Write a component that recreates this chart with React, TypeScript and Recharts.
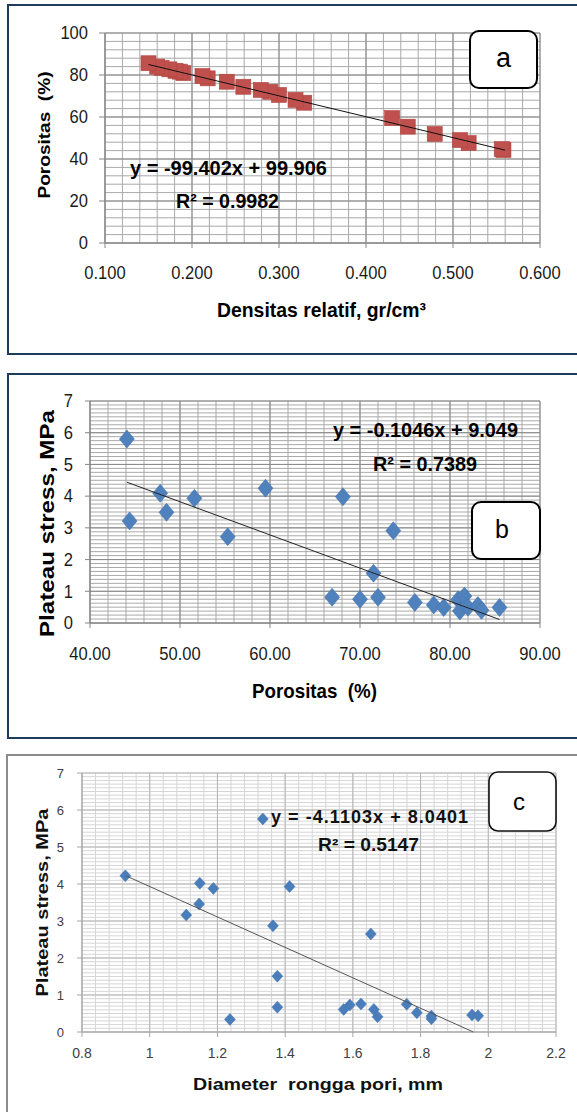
import React from 'react';
import { ScatterChart, Scatter, XAxis, YAxis, CartesianGrid } from 'recharts';

// ---------- Panel a: Densitas relatif vs Porositas ----------
const densitasA = [0.558, 0.556, 0.518, 0.508, 0.479, 0.448, 0.430, 0.329, 0.319, 0.300, 0.290, 0.279, 0.259, 0.240, 0.218, 0.212, 0.190, 0.186, 0.181, 0.174, 0.165, 0.160, 0.150];
const porositasA = [44.3, 44.7, 47.6, 49.0, 51.9, 55.4, 59.5, 66.8, 68.1, 70.5, 72.0, 72.9, 74.4, 76.8, 78.4, 79.5, 80.9, 81.6, 82.0, 82.7, 83.4, 84.0, 85.6];
const trendAx = [0.15, 0.56];
const trendAy = [85.0, 44.2];
const xTicksA = [0.1, 0.2, 0.3, 0.4, 0.5, 0.6];
const yTicksA = [0, 20, 40, 60, 80, 100];

// ---------- Panel b: Porositas vs Plateau stress ----------
const porositasB = [44.1, 44.4, 47.8, 48.5, 51.6, 55.3, 59.5, 66.9, 68.1, 70.0, 71.5, 72.0, 73.7, 76.1, 78.2, 79.3, 80.9, 81.1, 81.6, 82.0, 83.1, 83.5, 85.5];
const stressB = [5.80, 3.22, 4.09, 3.49, 3.93, 2.72, 4.25, 0.81, 3.98, 0.75, 1.57, 0.81, 2.91, 0.65, 0.57, 0.49, 0.73, 0.38, 0.85, 0.50, 0.55, 0.40, 0.49];
const trendBx = [44.1, 85.5];
const trendBy = [4.44, 0.11];
const xTicksB = [40, 50, 60, 70, 80, 90];
const yTicksB = [0, 1, 2, 3, 4, 5, 6, 7];

// ---------- Panel c: Diameter rongga pori vs Plateau stress ----------
const diameterC = [0.928, 1.108, 1.148, 1.146, 1.188, 1.237, 1.334, 1.364, 1.377, 1.377, 1.413, 1.573, 1.591, 1.624, 1.653, 1.662, 1.673, 1.759, 1.789, 1.832, 1.832, 1.952, 1.970];
const stressC = [4.22, 3.16, 4.02, 3.46, 3.88, 0.34, 5.76, 2.87, 1.51, 0.67, 3.93, 0.61, 0.73, 0.76, 2.65, 0.61, 0.41, 0.75, 0.52, 0.43, 0.36, 0.46, 0.44];
const trendCx = [0.93, 1.956];
const trendCy = [4.22, 0.0];
const xTicksC = [0.8, 1, 1.2, 1.4, 1.6, 1.8, 2, 2.2];
const yTicksC = [0, 1, 2, 3, 4, 5, 6, 7];

const zip = (xs: number[], ys: number[]) => xs.map((x, i) => ({ x, y: ys[i] }));
const dataA = zip(densitasA, porositasA);
const trendA = zip(trendAx, trendAy);
const dataB = zip(porositasB, stressB);
const trendB = zip(trendBx, trendBy);
const dataC = zip(diameterC, stressC);
const trendC = zip(trendCx, trendCy);

const steps = (min: number, max: number, step: number) => {
  const out: number[] = [];
  const n = Math.round((max - min) / step);
  for (let i = 0; i <= n; i++) out.push(min + i * step);
  return out;
};

const vGen = (vals: number[], min: number, max: number) => (p: any) => {
  const o = p.offset;
  return vals.map((v) => o.left + ((v - min) / (max - min)) * o.width);
};
const hGen = (vals: number[], min: number, max: number) => (p: any) => {
  const o = p.offset;
  return vals.map((v) => o.top + o.height - ((v - min) / (max - min)) * o.height);
};

const FONT = "'Liberation Sans', Arial, Helvetica, sans-serif";

const makeTick = (opts: { anchor: string; dy: any; fontSize: number; sx: number; fill: string; fmt: (v: number) => string }) =>
  (props: any) => {
    const { x, y, payload } = props;
    return (
      <text
        transform={`translate(${x},${y}) scale(${opts.sx},1)`}
        x={0}
        y={0}
        dy={opts.dy}
        textAnchor={opts.anchor as any}
        fontSize={opts.fontSize}
        fontFamily={FONT}
        fill={opts.fill}
      >
        {opts.fmt(payload.value)}
      </text>
    );
  };

const tickAX = makeTick({ anchor: 'middle', dy: 31.5, fontSize: 18, sx: 0.92, fill: '#1a1a1a', fmt: (v) => v.toFixed(3) });
const tickAY = makeTick({ anchor: 'end', dy: '0.35em', fontSize: 18, sx: 0.92, fill: '#1a1a1a', fmt: (v) => String(v) });
const tickBX = makeTick({ anchor: 'middle', dy: 32, fontSize: 18, sx: 0.92, fill: '#1a1a1a', fmt: (v) => v.toFixed(2) });
const tickBY = makeTick({ anchor: 'end', dy: '0.35em', fontSize: 18, sx: 0.92, fill: '#1a1a1a', fmt: (v) => String(v) });
const tickCX = makeTick({ anchor: 'middle', dy: 21, fontSize: 14, sx: 1, fill: '#404040', fmt: (v) => String(v) });
const tickCY = makeTick({ anchor: 'end', dy: '0.35em', fontSize: 13, sx: 1, fill: '#404040', fmt: (v) => String(v) });

const Square = (p: any) => (
  <rect x={p.cx - 7.5} y={p.cy - 7.5} width={15} height={15} fill="#C0504D" stroke="#B3453F" strokeWidth={0.6} />
);
const DiamondB = (p: any) => (
  <path
    d={`M${p.cx},${p.cy - 9} L${p.cx + 7.5},${p.cy} L${p.cx},${p.cy + 9} L${p.cx - 7.5},${p.cy} Z`}
    fill="#4F81BD"
    stroke="#4474AE"
    strokeWidth={0.6}
  />
);
const DiamondC = (p: any) => (
  <path
    d={`M${p.cx},${p.cy - 6} L${p.cx + 5.5},${p.cy} L${p.cx},${p.cy + 6} L${p.cx - 5.5},${p.cy} Z`}
    fill="#4A7EBB"
    stroke="#4474AE"
    strokeWidth={0.5}
  />
);
const Empty = () => <g />;

const axisA = { stroke: '#868686', strokeWidth: 1 };
const axisC = { stroke: '#a6a6a6', strokeWidth: 1 };

const boldText = (
  txt: string,
  x: number,
  y: number,
  fs: number,
  len: number,
  opts: { anchor?: string; rotate?: boolean; adjust?: string; weight?: string; fill?: string } = {}
) => (
  <text
    x={x}
    y={y}
    dy={opts.rotate ? '0.35em' : 0}
    transform={opts.rotate ? `rotate(-90, ${x}, ${y})` : undefined}
    textAnchor={(opts.anchor || 'middle') as any}
    fontSize={fs}
    fontWeight={opts.weight || 'bold'}
    fontFamily={FONT}
    fill={opts.fill || '#000'}
    textLength={len}
    lengthAdjust={(opts.adjust || 'spacingAndGlyphs') as any}
    style={{ whiteSpace: 'pre' }}
  >
    {txt}
  </text>
);

export default function App() {
  return (
    <div style={{ position: 'absolute', left: 0, top: 0, width: 577, height: 1112, background: '#fff', overflow: 'hidden' }}>
      {/* Panel a */}
      <div style={{ position: 'absolute', left: 0, top: 0 }}>
        <ScatterChart width={577} height={360} margin={{ top: 33, right: 37, bottom: 87, left: 45 }}>
          <CartesianGrid
            stroke="#a9a9a9"
            strokeWidth={1}
            verticalCoordinatesGenerator={vGen(steps(0.1, 0.6, 0.02), 0.1, 0.6)}
            horizontalCoordinatesGenerator={hGen(steps(0, 100, 4), 0, 100)}
          />
          <CartesianGrid
            stroke="#8a8a8a"
            strokeWidth={1}
            verticalCoordinatesGenerator={vGen(xTicksA, 0.1, 0.6)}
            horizontalCoordinatesGenerator={hGen(yTicksA, 0, 100)}
          />
          <XAxis type="number" dataKey="x" domain={[0.1, 0.6]} ticks={xTicksA} interval={0} height={30} tickSize={5} tickMargin={0} axisLine={axisA} tickLine={axisA} tick={tickAX} />
          <YAxis type="number" dataKey="y" domain={[0, 100]} ticks={yTicksA} interval={0} width={60} tickSize={6} tickMargin={11} axisLine={axisA} tickLine={axisA} tick={tickAY} />
          <Scatter data={dataA} shape={Square} isAnimationActive={false} />
          <Scatter data={trendA} shape={Empty} line={{ stroke: '#111', strokeWidth: 1 }} isAnimationActive={false} />
        </ScatterChart>
      </div>

      {/* Panel b */}
      <div style={{ position: 'absolute', left: 0, top: 360 }}>
        <ScatterChart width={577} height={380} margin={{ top: 41, right: 37, bottom: 87, left: 30 }}>
          <CartesianGrid
            stroke="#a9a9a9"
            strokeWidth={1}
            verticalCoordinatesGenerator={vGen(steps(40, 90, 2), 40, 90)}
            horizontalCoordinatesGenerator={hGen(steps(0, 7, 0.125), 0, 7)}
          />
          <CartesianGrid
            stroke="#8a8a8a"
            strokeWidth={1}
            verticalCoordinatesGenerator={vGen(xTicksB, 40, 90)}
            horizontalCoordinatesGenerator={hGen(yTicksB, 0, 7)}
          />
          <XAxis type="number" dataKey="x" domain={[40, 90]} ticks={xTicksB} interval={0} height={30} tickSize={5} tickMargin={0} axisLine={axisA} tickLine={axisA} tick={tickBX} />
          <YAxis type="number" dataKey="y" domain={[0, 7]} ticks={yTicksB} interval={0} width={60} tickSize={5} tickMargin={12} axisLine={axisA} tickLine={axisA} tick={tickBY} />
          <Scatter data={dataB} shape={DiamondB} isAnimationActive={false} />
          <Scatter data={trendB} shape={Empty} line={{ stroke: '#222', strokeWidth: 1 }} isAnimationActive={false} />
        </ScatterChart>
      </div>

      {/* Panel c */}
      <div style={{ position: 'absolute', left: 0, top: 740 }}>
        <ScatterChart width={577} height={372} margin={{ top: 33, right: 21, bottom: 50, left: 22 }}>
          <CartesianGrid
            stroke="#d6d6d6"
            strokeWidth={1}
            verticalCoordinatesGenerator={vGen(steps(0.8, 2.2, 0.04), 0.8, 2.2)}
            horizontalCoordinatesGenerator={hGen(steps(0, 7, 0.1), 0, 7)}
          />
          <CartesianGrid
            stroke="#b5b5b5"
            strokeWidth={1}
            verticalCoordinatesGenerator={vGen(xTicksC, 0.8, 2.2)}
            horizontalCoordinatesGenerator={hGen(yTicksC, 0, 7)}
          />
          <XAxis type="number" dataKey="x" domain={[0.8, 2.2]} ticks={xTicksC} interval={0} height={30} tickSize={5} tickMargin={0} axisLine={axisC} tickLine={axisC} tick={tickCX} />
          <YAxis type="number" dataKey="y" domain={[0, 7]} ticks={yTicksC} interval={0} width={60} tickSize={5} tickMargin={13} axisLine={axisC} tickLine={axisC} tick={tickCY} />
          <Scatter data={dataC} shape={DiamondC} isAnimationActive={false} />
          <Scatter data={trendC} shape={Empty} line={{ stroke: '#555', strokeWidth: 1 }} isAnimationActive={false} />
        </ScatterChart>
      </div>

      {/* Overlay: frames, labels, equations, titles */}
      <svg width={577} height={1112} style={{ position: 'absolute', left: 0, top: 0, pointerEvents: 'none' }}>
        <rect x={8} y={5} width={620} height={349} fill="none" stroke="#1F3B5C" strokeWidth={2} />
        <rect x={8} y={374} width={620} height={364} fill="none" stroke="#1F3B5C" strokeWidth={2} />
        <rect x={7} y={755} width={620} height={420} fill="none" stroke="#8c8c8c" strokeWidth={2} />

        <rect x={470} y={31} width={67} height={57} rx={9} fill="#fff" stroke="#000" strokeWidth={2} />
        <text x={503.5} y={67} textAnchor="middle" fontSize={27} fontFamily={FONT} fill="#000">a</text>
        <rect x={472} y={502} width={68} height={57} rx={9} fill="#fff" stroke="#000" strokeWidth={2} />
        <text x={502} y={538} textAnchor="middle" fontSize={25} fontFamily={FONT} fill="#000">b</text>
        <rect x={489} y={772} width={67} height={59} rx={9} fill="#fff" stroke="#111" strokeWidth={1.6} />
        <text x={519} y={810} textAnchor="middle" fontSize={24} fontFamily={FONT} fill="#000">c</text>

        {boldText('y = -99.402x + 99.906', 228.5, 175, 21, 197)}
        {boldText('R² = 0.9982', 227.5, 207.5, 21, 103)}
        {boldText('y = -0.1046x + 9.049', 425.5, 437, 21, 185)}
        {boldText('R² = 0.7389', 425, 470.5, 21, 104)}
        {boldText('y = -4.1103x + 8.0401', 271, 823, 18, 197, { anchor: 'start', adjust: 'spacing', fill: '#111' })}
        {boldText('R² = 0.5147', 368.5, 851, 18, 101, { fill: '#111' })}

        {boldText('Porositas  (%)', 44, 135, 16.5, 127, { rotate: true })}
        {boldText('Densitas relatif, gr/cm³', 321.5, 317, 21, 209)}
        {boldText('Plateau stress, MPa', 47, 523.5, 20, 227, { rotate: true })}
        {boldText('Porositas  (%)', 314.5, 698, 21, 125)}
        {boldText('Plateau stress, MPa', 42.5, 902.5, 17, 188, { rotate: true, fill: '#111' })}
        {boldText('Diameter  rongga pori, mm', 318, 1090, 17, 250, { fill: '#111' })}
      </svg>
    </div>
  );
}
